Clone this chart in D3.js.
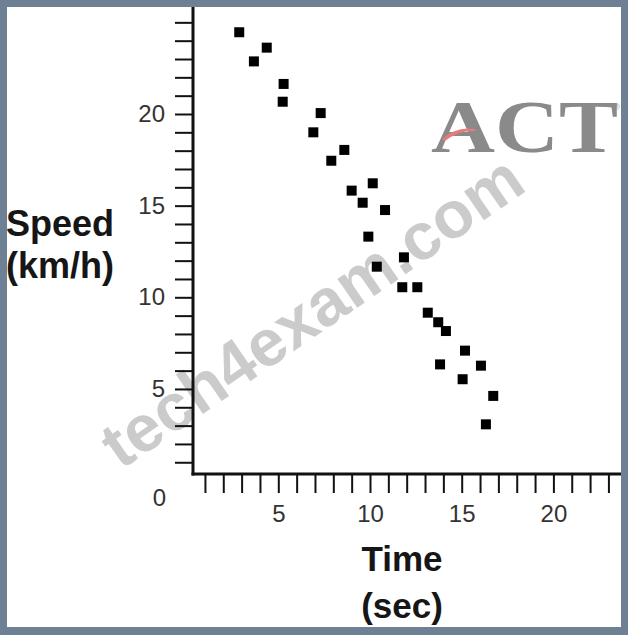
<!DOCTYPE html>
<html>
<head>
<meta charset="utf-8">
<script src="https://cdn.jsdelivr.net/npm/d3@7"></script>
<style>
  html, body { margin: 0; padding: 0; background: #6e8094; }
  svg { display: block; }
  text { font-family: "Liberation Sans", Arial, sans-serif; }
</style>
</head>
<body>
<svg id="chart" width="628" height="635"></svg>
<script>
// time (sec) and speed (km/h)
const times  = [2.87, 3.67, 4.37, 5.29, 5.24, 7.31, 6.91, 7.89, 8.60, 9.00, 9.60, 10.15, 10.82, 9.91,
                10.37, 11.85, 11.76, 12.58, 13.15, 13.72, 14.14, 15.18, 13.82, 16.05, 15.05, 16.72, 16.32];
const speeds = [24.46, 22.87, 23.62, 21.64, 20.67, 20.05, 19.00, 17.45, 18.04, 15.82, 15.16, 16.22, 14.76, 13.31,
                11.67, 12.18, 10.55, 10.55, 9.16, 8.64, 8.16, 7.09, 6.34, 6.27, 5.53, 4.62, 3.07];

const xTicks = d3.range(1, 24);
const yTicks = d3.range(1, 26);
const xLabels = [5, 10, 15, 20];
const yLabels = [5, 10, 15, 20];

const svg = d3.select('#chart');

// white paper inside the frame
svg.append('rect')
  .attr('x', 7).attr('y', 7)
  .attr('width', 614).attr('height', 620)
  .attr('fill', '#fff');

const x = d3.scaleLinear().domain([0, 24]).range([186.6, 186.6 + 24 * 18.34]);
const y = d3.scaleLinear().domain([0, 25]).range([480.6, 480.6 - 25 * 18.33]);

const axisX = 193, axisY = 474;

// watermark (behind the chart)
svg.append('g')
  .attr('transform', 'translate(315,316) rotate(-34.6)')
  .append('text')
  .attr('text-anchor', 'middle')
  .attr('y', 17)
  .style('font-size', '66px')
  .style('font-weight', 'bold')
  .attr('fill', '#cbcbcb')
  .text('tech4exam.com');

// ACT logo
const logo = svg.append('g');
logo.append('text')
  .attr('x', 431)
  .attr('y', 152)
  .attr('textLength', 187)
  .attr('lengthAdjust', 'spacingAndGlyphs')
  .style('font-family', '"Liberation Serif", "DejaVu Serif", serif')
  .style('font-size', '74px')
  .style('font-weight', 'bold')
  .attr('fill', '#8a8a8a')
  .text('ACT');
logo.append('path')
  .attr('d', 'M442,139 Q456,126 475,129 Q476,131 474,131 Q459,130 445,141 Z')
  .attr('fill', '#e97b7b');
logo.append('text')
  .attr('x', 613).attr('y', 110)
  .style('font-size', '9px')
  .attr('fill', '#8a8a8a')
  .text('®');

// axes
const xAxis = d3.axisBottom(x)
  .tickValues(xTicks)
  .tickSize(18)
  .tickPadding(12)
  .tickFormat(d => xLabels.includes(d) ? d : '');

const yAxis = d3.axisLeft(y)
  .tickValues(yTicks)
  .tickSize(17)
  .tickPadding(10)
  .tickFormat(d => yLabels.includes(d) ? d : '');

const gx = svg.append('g')
  .attr('transform', 'translate(0,' + (axisY + 1) + ')')
  .call(xAxis);
const gy = svg.append('g')
  .attr('transform', 'translate(' + (axisX - 1) + ',0)')
  .call(yAxis);

[gx, gy].forEach(g => {
  g.select('.domain').remove();
  g.selectAll('.tick line').attr('stroke', '#111').attr('stroke-width', 2);
  g.selectAll('.tick text')
    .attr('fill', '#333')
    .style('font-size', '24px')
    .style('font-family', '"Liberation Sans", Arial, sans-serif');
});

// axis lines
svg.append('line')
  .attr('x1', axisX).attr('x2', axisX)
  .attr('y1', 7).attr('y2', axisY + 1.5)
  .attr('stroke', '#111').attr('stroke-width', 3);
svg.append('line')
  .attr('x1', axisX - 1.5).attr('x2', 621)
  .attr('y1', axisY).attr('y2', axisY)
  .attr('stroke', '#111').attr('stroke-width', 3);

// origin label
svg.append('text')
  .attr('x', 166).attr('y', 506)
  .attr('text-anchor', 'end')
  .attr('fill', '#333')
  .style('font-size', '24px')
  .text('0');

// axis titles
const yTitle = svg.append('text')
  .attr('fill', '#161616')
  .style('font-size', '36px')
  .style('font-weight', 'bold');
yTitle.append('tspan').attr('x', 6).attr('y', 236).text('Speed');
yTitle.append('tspan').attr('x', 6).attr('y', 278).text('(km/h)');

const xTitle = svg.append('text')
  .attr('text-anchor', 'middle')
  .attr('fill', '#161616')
  .style('font-size', '35px')
  .style('font-weight', 'bold');
xTitle.append('tspan').attr('x', 402).attr('y', 571).text('Time');
xTitle.append('tspan').attr('x', 402).attr('y', 618).text('(sec)');

// data points
const points = times.map((t, i) => ({ t: t, s: speeds[i] }));
const size = 10;

svg.append('g')
  .selectAll('rect')
  .data(points)
  .enter()
  .append('rect')
  .attr('x', d => x(d.t) - size / 2)
  .attr('y', d => y(d.s) - size / 2)
  .attr('width', size)
  .attr('height', size)
  .attr('fill', '#000');

// frame on top so nothing pokes past it
svg.append('rect')
  .attr('x', 3.5).attr('y', 3.5)
  .attr('width', 621).attr('height', 627)
  .attr('fill', 'none')
  .attr('stroke', '#6e8094')
  .attr('stroke-width', 7);
</script>
</body>
</html>
